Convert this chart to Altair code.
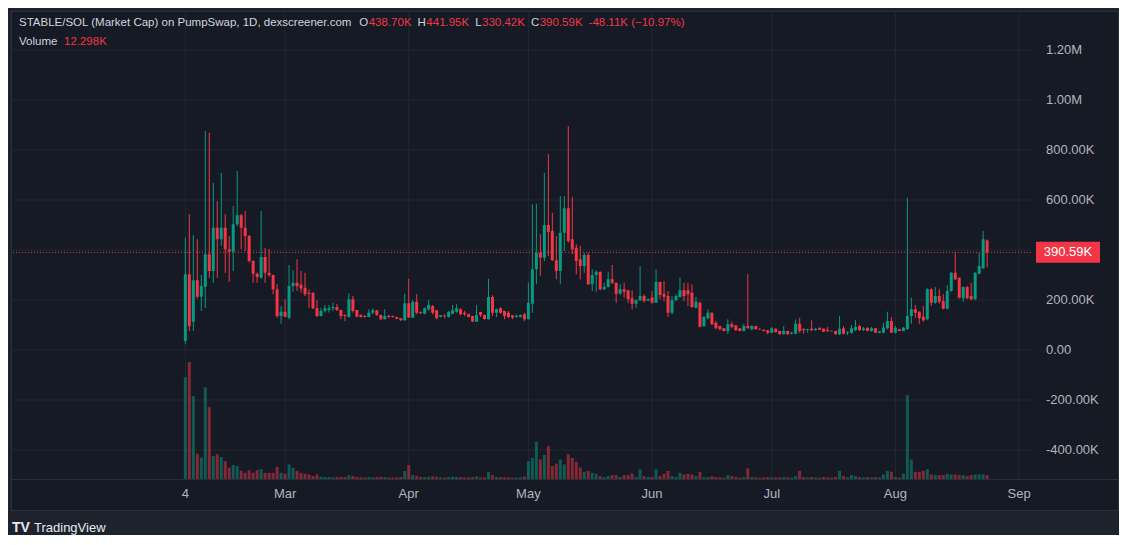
import altair as alt
import pandas as pd

# ---------------- data (values in K) ----------------
START_DATE = "2025-02-04"

OPEN = [36, 303, 113, 279, 213, 253, 383, 316, 489, 443, 489, 403, 393, 503, 539, 489, 456, 356, 305, 289,
        372, 309, 300, 243, 136, 153, 129, 256, 269, 262, 249, 229, 229, 167, 136, 156, 160, 167, 172, 160,
        140, 132, 203, 160, 140, 136, 132, 149, 159, 140, 123, 137, 136, 132, 127, 119, 187, 129, 193, 152,
        145, 163, 176, 159, 132, 138, 132, 145, 153, 163, 149, 143, 136, 113, 152, 140, 123, 212, 149, 167,
        156, 149, 139, 132, 132, 143, 123, 185, 323, 389, 369, 500, 476, 359, 316, 469, 567, 443, 409, 363,
        336, 380, 263, 300, 312, 243, 252, 283, 269, 225, 243, 239, 207, 185, 199, 216, 198, 210, 189, 272,
        225, 216, 149, 199, 212, 239, 239, 229, 169, 189, 96, 127, 149, 109, 96, 87, 76, 103, 99, 87,
        76, 96, 83, 96, 84, 81, 79, 69, 85, 76, 63, 76, 65, 65, 105, 85, 80, 85, 80, 89,
        85, 80, 77, 76, 63, 87, 69, 69, 79, 96, 80, 89, 76, 87, 69, 69, 87, 116, 69, 83,
        76, 83, 136, 163, 153, 133, 123, 243, 189, 216, 196, 165, 236, 309, 289, 207, 252, 216, 203, 305,
        327, 438.70]
HIGH = [449, 543, 460, 443, 300, 876, 869, 669, 596, 709, 543, 456, 576, 716, 545, 556, 460, 360, 310, 556,
        409, 403, 302, 263, 176, 203, 340, 319, 363, 316, 309, 243, 230, 199, 169, 180, 180, 189, 185, 161,
        143, 227, 216, 161, 143, 140, 163, 167, 160, 141, 163, 140, 138, 133, 128, 225, 285, 199, 223, 155,
        170, 200, 180, 160, 140, 143, 156, 180, 183, 167, 156, 145, 137, 180, 153, 142, 284, 219, 165, 172,
        157, 156, 140, 143, 142, 149, 269, 583, 585, 463, 709, 783, 549, 456, 616, 616, 896, 612, 423, 416,
        389, 389, 323, 319, 315, 269, 313, 340, 270, 263, 269, 240, 239, 203, 336, 223, 206, 236, 323, 273,
        276, 236, 216, 223, 289, 269, 269, 263, 212, 193, 136, 163, 150, 116, 97, 88, 123, 113, 100, 88,
        105, 303, 99, 97, 88, 82, 80, 92, 86, 77, 96, 77, 72, 123, 129, 86, 85, 119, 89, 90,
        86, 92, 78, 77, 136, 96, 74, 100, 120, 99, 92, 90, 92, 88, 76, 109, 153, 132, 96, 85,
        92, 609, 209, 180, 154, 176, 247, 247, 252, 243, 223, 260, 313, 393, 290, 254, 256, 269, 311, 389,
        476, 441.95]
LOW = [23, 75, 76, 205, 156, 167, 289, 269, 289, 416, 309, 273, 316, 495, 403, 396, 350, 269, 269, 285,
       269, 292, 223, 129, 105, 132, 123, 233, 236, 229, 216, 169, 163, 132, 134, 150, 150, 156, 156, 123,
       116, 130, 149, 131, 130, 130, 131, 143, 136, 119, 122, 127, 130, 123, 116, 116, 128, 128, 143, 145,
       143, 156, 143, 123, 130, 127, 129, 143, 149, 140, 136, 130, 112, 112, 132, 122, 122, 136, 132, 145,
       123, 127, 123, 129, 130, 116, 122, 149, 263, 296, 356, 376, 356, 283, 263, 396, 429, 383, 303, 283,
       309, 260, 236, 233, 239, 240, 250, 263, 189, 221, 209, 189, 163, 169, 196, 190, 195, 185, 188, 203,
       196, 132, 143, 196, 210, 196, 176, 169, 167, 91, 92, 123, 100, 83, 79, 74, 63, 87, 77, 75,
       74, 86, 79, 82, 80, 75, 63, 68, 69, 61, 62, 61, 62, 63, 69, 65, 69, 76, 76, 80,
       72, 72, 74, 61, 60, 63, 60, 65, 76, 76, 76, 75, 73, 68, 66, 67, 83, 68, 66, 75,
       75, 82, 105, 129, 105, 113, 119, 176, 185, 185, 163, 163, 233, 279, 206, 193, 203, 199, 199, 303,
       325, 330.42]
CLOSE = [303, 95, 279, 213, 256, 383, 316, 489, 443, 489, 403, 393, 503, 539, 489, 456, 356, 305, 292, 372,
         309, 300, 243, 136, 153, 133, 256, 269, 255, 246, 223, 225, 167, 136, 156, 167, 167, 172, 160, 136,
         136, 203, 156, 133, 132, 132, 149, 159, 140, 123, 136, 133, 132, 125, 119, 187, 130, 193, 149, 147,
         167, 180, 149, 127, 139, 135, 153, 159, 167, 143, 143, 132, 114, 140, 140, 124, 212, 149, 163, 149,
         136, 132, 129, 136, 140, 123, 189, 323, 389, 369, 500, 473, 359, 316, 469, 567, 436, 403, 356, 336,
         380, 263, 300, 313, 243, 252, 283, 269, 225, 243, 233, 203, 185, 199, 216, 196, 203, 190, 272, 220,
         213, 149, 199, 216, 239, 216, 223, 172, 193, 93, 132, 149, 103, 87, 83, 76, 103, 92, 79, 76,
         96, 87, 96, 83, 82, 76, 69, 87, 72, 63, 76, 63, 69, 105, 76, 79, 83, 79, 85, 81,
         73, 76, 75, 63, 85, 65, 73, 87, 92, 79, 86, 76, 87, 69, 75, 89, 116, 69, 89, 76,
         89, 136, 163, 149, 127, 119, 243, 189, 216, 193, 165, 236, 309, 283, 209, 252, 207, 203, 309, 336,
         443, 390.59]
VOLUME = [313, 360, 255, 78, 66, 282, 221, 71, 76, 68, 55, 35, 43, 40, 25, 19, 27, 19, 27, 30,
          19, 19, 19, 37, 19, 16, 45, 35, 25, 19, 16, 14, 9, 14, 7, 6, 6, 5, 6, 7,
          6, 12, 9, 6, 5, 4, 6, 5, 6, 7, 6, 4, 4, 5, 6, 25, 43, 12, 10, 6,
          6, 7, 8, 7, 5, 4, 6, 7, 6, 6, 5, 5, 6, 8, 5, 5, 22, 12, 6, 6,
          5, 5, 4, 4, 5, 8, 55, 65, 115, 60, 74, 101, 40, 47, 60, 45, 76, 65, 53, 35,
          22, 25, 19, 16, 9, 6, 9, 12, 12, 6, 12, 12, 17, 6, 30, 9, 6, 6, 30, 9,
          16, 25, 9, 6, 19, 14, 16, 14, 9, 22, 6, 6, 9, 6, 5, 4, 12, 9, 6, 4,
          6, 33, 6, 5, 4, 5, 6, 5, 5, 5, 6, 5, 4, 9, 25, 6, 5, 6, 5, 4,
          6, 5, 4, 6, 25, 9, 5, 12, 9, 6, 5, 6, 5, 6, 5, 14, 25, 22, 6, 4,
          16, 258, 60, 22, 22, 25, 30, 14, 12, 12, 12, 16, 14, 14, 12, 12, 9, 12, 14, 14,
          14, 12.298]

X_TICK_DATES = ["2025-02-04", "2025-03-01", "2025-04-01", "2025-05-01", "2025-06-01",
                "2025-07-01", "2025-08-01", "2025-09-01"]
X_TICK_LABELS = ["4", "Mar", "Apr", "May", "Jun", "Jul", "Aug", "Sep"]
Y_TICK_VALUES = [-400, -200, 0, 200, 600, 800, 1000, 1200]
Y_TICK_LABELS = ["-400.00K", "-200.00K", "0.00", "200.00K", "600.00K", "800.00K", "1.00M", "1.20M"]
GRID_VALUES = [-400, -200, 0, 200, 400, 600, 800, 1000, 1200]
LAST_PRICE = 390.59
HEADER_TITLE = "STABLE/SOL (Market Cap) on PumpSwap, 1D, dexscreener.com"
OHLC_LETTERS = ["O", "H", "L", "C"]
OHLC_TEXTS = ["438.70K", "441.95K", "330.42K", "390.59K"]
CHANGE_TEXT = "-48.11K (\u221210.97%)"
VOLUME_LABEL = "Volume"
VOLUME_TEXT = "12.298K"
BRAND = "TradingView"

# ---------------- style ----------------
FONT = "Liberation Sans"
UP, DOWN = "#089981", "#f23645"
PANEL, OUTER, BORDER, GRID = "#161a25", "#1e222d", "#2a2e39", "#232733"
AXIS_TEXT, LEGEND_TEXT = "#b2b5be", "#d1d4dc"
W, H = 1020, 468

start = pd.Timestamp(START_DATE)
dates = pd.date_range(start, periods=len(OPEN), freq="D")
df = pd.DataFrame({
    "date": dates.strftime("%Y-%m-%d"),
    "day": (dates - start).days,
    "open": OPEN, "high": HIGH, "low": LOW, "close": CLOSE, "vol": VOLUME,
})
df["dir"] = ["up" if c >= o else "down" for o, c in zip(OPEN, CLOSE)]

x_ticks = [(pd.Timestamp(d) - start).days for d in X_TICK_DATES]
xlab_df = pd.DataFrame({"day": x_ticks, "label": X_TICK_LABELS})
ylab_df = pd.DataFrame({"v": Y_TICK_VALUES, "label": Y_TICK_LABELS})
grid_df = pd.DataFrame({"v": GRID_VALUES})
price_df = pd.DataFrame({"p": [LAST_PRICE], "t": [f"{LAST_PRICE:.2f}K"]})
one = pd.DataFrame({"k": [0]})

xscale = alt.Scale(domain=[-42.45, 210.74], nice=False, zero=False)
yscale = alt.Scale(domain=[-516, 1356], nice=False, zero=False)
vscale = alt.Scale(domain=[0, 1440], nice=False)
color = alt.Color("dir:N", scale=alt.Scale(domain=["up", "down"], range=[UP, DOWN]), legend=None)
X = lambda f: alt.X(f, scale=xscale, axis=None)
Y = lambda f: alt.Y(f, scale=yscale, axis=None)

# decoration: panel and separator
panel = alt.Chart(one).mark_rect(fill=PANEL, stroke=BORDER, strokeWidth=1).encode(
    x=alt.value(0.5), x2=alt.value(1107.5), y=alt.value(0.5), y2=alt.value(499.5))
sep = alt.Chart(one).mark_rule(color=BORDER, strokeWidth=1).encode(
    x=alt.value(0), x2=alt.value(1107), y=alt.value(468.5))

# grid + tick labels (drawn as marks through the scales)
vgrid = alt.Chart(xlab_df).mark_rule(color=GRID, strokeWidth=1).encode(x=X("day:Q"))
xlabels = alt.Chart(xlab_df).mark_text(font=FONT, fontSize=13, color=AXIS_TEXT, align="center",
                                       baseline="middle").encode(
    x=X("day:Q"), y=alt.value(483), text="label:N")
hgrid = alt.Chart(grid_df).mark_rule(color=GRID, strokeWidth=1).encode(y=Y("v:Q"))
ylabels = alt.Chart(ylab_df).mark_text(font=FONT, fontSize=13, color=AXIS_TEXT, align="left",
                                       baseline="middle").encode(
    x=alt.value(1035), y=Y("v:Q"), text="label:N")
grid_group = alt.layer(hgrid, ylabels)

volume = alt.Chart(df).mark_bar(size=3, opacity=0.5, orient="vertical").encode(
    x=X("day:Q"),
    y=alt.Y("vol:Q", scale=vscale, axis=None),
    color=color)

wicks = alt.Chart(df).mark_rule(strokeWidth=1).encode(
    x=X("day:Q"), y=Y("low:Q"), y2="high:Q", color=color)
bodies = alt.Chart(df).mark_bar(size=3, orient="vertical").encode(
    x=X("day:Q"), y=Y("open:Q"), y2="close:Q", color=color)
pline = alt.Chart(price_df).mark_rule(color=DOWN, strokeDash=[1, 2], strokeWidth=1).encode(y=Y("p:Q"))
tag = alt.Chart(price_df).mark_tick(orient="horizontal", color=DOWN, size=64, thickness=21, opacity=1).encode(
    x=alt.value(1057), y=Y("p:Q"))
tag_text = alt.Chart(price_df).mark_text(color="#ffffff", font=FONT, fontSize=13, align="center",
                                         baseline="middle").encode(
    x=alt.value(1057), y=Y("p:Q"), text="t:N")

price_group = alt.layer(wicks, bodies, pline, tag, tag_text)

# header text layout (approximate Arial widths)
AW = {" ": 278, "(": 333, ")": 333, ",": 278, "-": 333, ".": 278, "/": 278, "%": 889, "\u2212": 584,
      "A": 667, "B": 667, "C": 722, "D": 722, "E": 667, "H": 722, "K": 667, "L": 556, "M": 833,
      "O": 778, "P": 667, "S": 667, "T": 611, "V": 667,
      "a": 556, "c": 500, "d": 556, "e": 556, "g": 556, "i": 222, "k": 500, "l": 222, "m": 833,
      "n": 556, "o": 556, "p": 556, "r": 333, "s": 500, "t": 278, "u": 556, "w": 722, "x": 500}


def tw(s, size):
    return sum(AW.get(ch, 556) for ch in s) * size / 1000.0


def txt(s, x, y, col, size=11.5, weight="normal"):
    return alt.Chart(pd.DataFrame({"t": [s]})).mark_text(
        align="left", baseline="middle", font=FONT, fontSize=size, color=col, fontWeight=weight
    ).encode(x=alt.value(x), y=alt.value(y), text="t:N")


HS = 11.5
texts = []
cx = 8
texts.append(txt(HEADER_TITLE, cx, 12, LEGEND_TEXT, HS))
cx += tw(HEADER_TITLE, HS) + 6
for letter, val in zip(OHLC_LETTERS, OHLC_TEXTS):
    texts.append(txt(letter, cx, 12, LEGEND_TEXT, HS))
    cx += tw(letter, HS) + 0.5
    texts.append(txt(val, cx, 12, DOWN, HS))
    cx += tw(val, HS) + 6
texts.append(txt(CHANGE_TEXT, cx, 12, DOWN, HS))
texts.append(txt(VOLUME_LABEL, 8, 31, LEGEND_TEXT, HS))
texts.append(txt(VOLUME_TEXT, 8 + tw(VOLUME_LABEL, HS) + 6, 31, DOWN, HS))
texts.append(txt("TV", 1, 517, "#e8eaf0", 14, "bold"))
texts.append(txt(BRAND, 23, 517, "#e8eaf0", 13))

chart = alt.layer(panel, sep, vgrid, xlabels, grid_group, volume, price_group, *texts).resolve_scale(
    y="independent"
).properties(
    width=W, height=H,
    padding={"left": 2, "top": 2, "right": 0, "bottom": 0},
    background=OUTER,
    usermeta={"embedOptions": {"defaultStyle": "html,body{background:#1e222d;}"}},
).configure_view(stroke=None).configure(font=FONT)

chart.save("out.html", embed_options={"renderer": "svg", "actions": False})
